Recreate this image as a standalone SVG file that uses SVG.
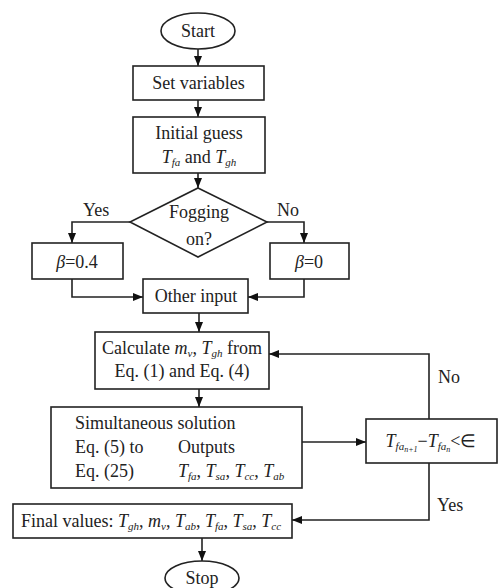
<svg xmlns="http://www.w3.org/2000/svg" width="498" height="588" viewBox="0 0 498 588">
<defs>
<marker id="ah" markerUnits="userSpaceOnUse" markerWidth="10" markerHeight="8" refX="10" refY="4" orient="auto">
<path d="M0,0 L10,4 L0,8 z" fill="#111"/>
</marker>
<style>
.s{fill:#fff;stroke:#222;stroke-width:1.6}
.t{font-family:"Liberation Serif","Times New Roman",serif;font-size:18px;fill:#222}
.c{text-anchor:middle}
.i{font-style:italic}
.sub{font-style:italic;font-size:11px}
.ss{font-style:italic;font-size:8px}
.k{fill:none;stroke:#222;stroke-width:1.6;marker-end:url(#ah)}
</style>
</defs>
<rect width="498" height="588" fill="#fff"/>
<g id="connectors">
<path class="k" d="M198,49 V66"/>
<path class="k" d="M198,100 V117"/>
<path class="k" d="M198,173 V188"/>
<path class="k" d="M130,222 H72 V243"/>
<path class="k" d="M267,222 H304 V243"/>
<path class="k" d="M72,279 V297 H143"/>
<path class="k" d="M304,279 V297 H248"/>
<path class="k" d="M199,313 V332"/>
<path class="k" d="M199,389 V407"/>
<path class="k" d="M302,442 H366"/>
<path class="k" d="M429,419 V354 H269"/>
<path class="k" d="M429,463 V520 H292"/>
<path class="k" d="M202,538 V561"/>
<text class="t" x="83" y="216">Yes</text>
<text class="t" x="277" y="216">No</text>
<text class="t" x="438" y="383">No</text>
<text class="t" x="437" y="511">Yes</text>
</g>
<g id="start">
<ellipse class="s" cx="198" cy="31" rx="37" ry="18"/>
<text class="t c" x="198" y="37">Start</text>
</g>
<g id="set">
<rect class="s" x="133" y="66" width="131" height="34"/>
<text class="t c" x="198.5" y="89">Set variables</text>
</g>
<g id="initial">
<rect class="s" x="133" y="117" width="132" height="56"/>
<text class="t c" x="199" y="139">Initial guess</text>
<text class="t c" x="199" y="163"><tspan class="i">T</tspan><tspan class="sub" dy="3">fa</tspan><tspan dy="-3"> and </tspan><tspan class="i">T</tspan><tspan class="sub" dy="3">gh</tspan></text>
</g>
<g id="fogging">
<polygon class="s" points="198,188 267,222 198,257 130,222"/>
<text class="t c" x="199" y="218">Fogging</text>
<text class="t c" x="199" y="245">on?</text>
</g>
<g id="beta04">
<rect class="s" x="32" y="243" width="91" height="36"/>
<text class="t c" x="77" y="268"><tspan class="i">β</tspan>=0.4</text>
</g>
<g id="beta0">
<rect class="s" x="270" y="243" width="79" height="36"/>
<text class="t c" x="309" y="268"><tspan class="i">β</tspan>=0</text>
</g>
<g id="other">
<rect class="s" x="143" y="279" width="105" height="34"/>
<text class="t c" x="196" y="302">Other input</text>
</g>
<g id="calculate">
<rect class="s" x="95" y="332" width="174" height="57"/>
<text class="t c" x="182" y="354">Calculate <tspan class="i">m</tspan><tspan class="sub" dy="3">v</tspan><tspan dy="-3">, </tspan><tspan class="i">T</tspan><tspan class="sub" dy="3">gh</tspan><tspan dy="-3"> from</tspan></text>
<text class="t c" x="182" y="377">Eq. (1) and Eq. (4)</text>
</g>
<g id="simultaneous">
<rect class="s" x="51" y="407" width="251" height="81"/>
<text class="t" x="75" y="429">Simultaneous solution</text>
<text class="t" x="75" y="453">Eq. (5) to</text>
<text class="t" x="178" y="453">Outputs</text>
<text class="t" x="75" y="477">Eq. (25)</text>
<text class="t" x="178" y="477"><tspan class="i">T</tspan><tspan class="sub" dy="3">fa</tspan><tspan dy="-3">, </tspan><tspan class="i">T</tspan><tspan class="sub" dy="3">sa</tspan><tspan dy="-3">, </tspan><tspan class="i">T</tspan><tspan class="sub" dy="3">cc</tspan><tspan dy="-3">, </tspan><tspan class="i">T</tspan><tspan class="sub" dy="3">ab</tspan></text>
</g>
<g id="condition">
<rect class="s" x="366" y="419" width="131" height="44"/>
<text class="t c" x="431" y="447"><tspan class="i">T</tspan><tspan class="sub" dy="3">fa</tspan><tspan class="ss" dy="2">n+1</tspan><tspan dy="-5">−</tspan><tspan class="i">T</tspan><tspan class="sub" dy="3">fa</tspan><tspan class="ss" dy="2">n</tspan><tspan dy="-5">&lt;∈</tspan></text>
</g>
<g id="final">
<rect class="s" x="13" y="504" width="279" height="34"/>
<text class="t" x="21" y="527">Final values: <tspan class="i">T</tspan><tspan class="sub" dy="3">gh</tspan><tspan dy="-3">, </tspan><tspan class="i">m</tspan><tspan class="sub" dy="3">v</tspan><tspan dy="-3">, </tspan><tspan class="i">T</tspan><tspan class="sub" dy="3">ab</tspan><tspan dy="-3">, </tspan><tspan class="i">T</tspan><tspan class="sub" dy="3">fa</tspan><tspan dy="-3">, </tspan><tspan class="i">T</tspan><tspan class="sub" dy="3">sa</tspan><tspan dy="-3">, </tspan><tspan class="i">T</tspan><tspan class="sub" dy="3">cc</tspan></text>
</g>
<g id="stop">
<ellipse class="s" cx="202" cy="578" rx="37" ry="17"/>
<text class="t c" x="202" y="584">Stop</text>
</g>
</svg>
